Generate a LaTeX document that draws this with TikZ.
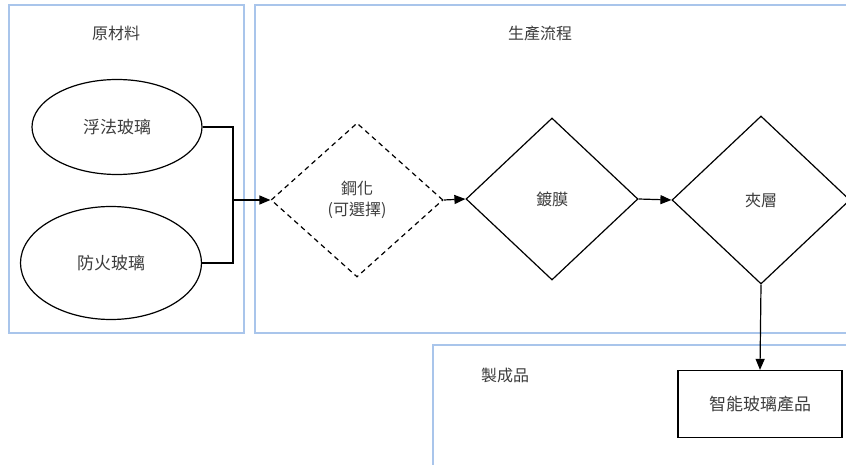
\documentclass[tikz,border=0pt]{standalone}
\usepackage{fontspec}
\setmainfont{Noto Sans CJK TC}
\usetikzlibrary{shapes.geometric,arrows.meta}
\definecolor{lanecol}{RGB}{169,197,235}
\definecolor{textcol}{RGB}{60,60,60}
\tikzset{
  lane/.style={draw=lanecol, line width=1.2pt},
  lanetitle/.style={text=textcol, font=\fontsize{16}{19}\selectfont},
  rawmat/.style={ellipse, draw, line width=1.2pt, inner sep=0pt,
                 text=textcol, font=\fontsize{17}{20}\selectfont},
  process/.style={diamond, draw, line width=1.2pt, inner sep=0pt,
                  minimum width=172pt, minimum height=162pt,
                  text=textcol, align=center,
                  font=\fontsize{16}{21}\selectfont},
  optional/.style={process, dash pattern=on 5pt off 4pt,
                   minimum height=154pt},
  product/.style={rectangle, draw, line width=1.2pt, text=textcol,
                  minimum width=164pt, minimum height=67pt,
                  font=\fontsize{17}{20}\selectfont},
  flow/.style={line width=1.2pt, -{Triangle[length=11pt,width=9pt]}}
}
\begin{document}
\begin{tikzpicture}[x=1pt, y=-1pt]
  \clip (0, 0) rectangle (846, 465);

  % Draws the three lanes and their titles
  \draw[lane] (9, 5) rectangle (244, 333);
  \draw[lane] (255, 5) rectangle (860, 333);
  \draw[lane] (433, 345) rectangle (860, 480);
  \node[lanetitle] (rawtitle) at (116, 33) {原材料};
  \node[lanetitle] (proctitle) at (540, 33) {生產流程};
  \node[lanetitle] (prodtitle) at (505, 375) {製成品};

  % Raw materials
  \node[rawmat, minimum width=170pt, minimum height=95pt]
       (float) at (117, 127) {浮法玻璃};
  \node[rawmat, minimum width=181pt, minimum height=113pt]
       (fire) at (111, 263) {防火玻璃};

  % Process steps and the finished product
  \node[optional] (temper) at (357, 200) {鋼化\\(可選擇)};
  \node[process] (coat) at (552, 199) {鍍膜};
  \node[process, minimum width=178pt, minimum height=168pt]
       (laminate) at (761, 200) {夾層};
  \node[product] (smart) at (760, 404) {智能玻璃產品};

  % Draws the connectors
  \coordinate (merge) at (233, 200);
  \draw[line width=1.2pt] (float.east) -| (merge);
  \draw[line width=1.2pt] (fire.east) -| (merge);
  \draw[flow] (merge) -- (temper.west);
  \draw[flow] (temper.east) -- (coat.west);
  \draw[flow] (coat.east) -- (laminate.west);
  \draw[flow] (laminate.south) -- (smart.north);
\end{tikzpicture}
\end{document}
